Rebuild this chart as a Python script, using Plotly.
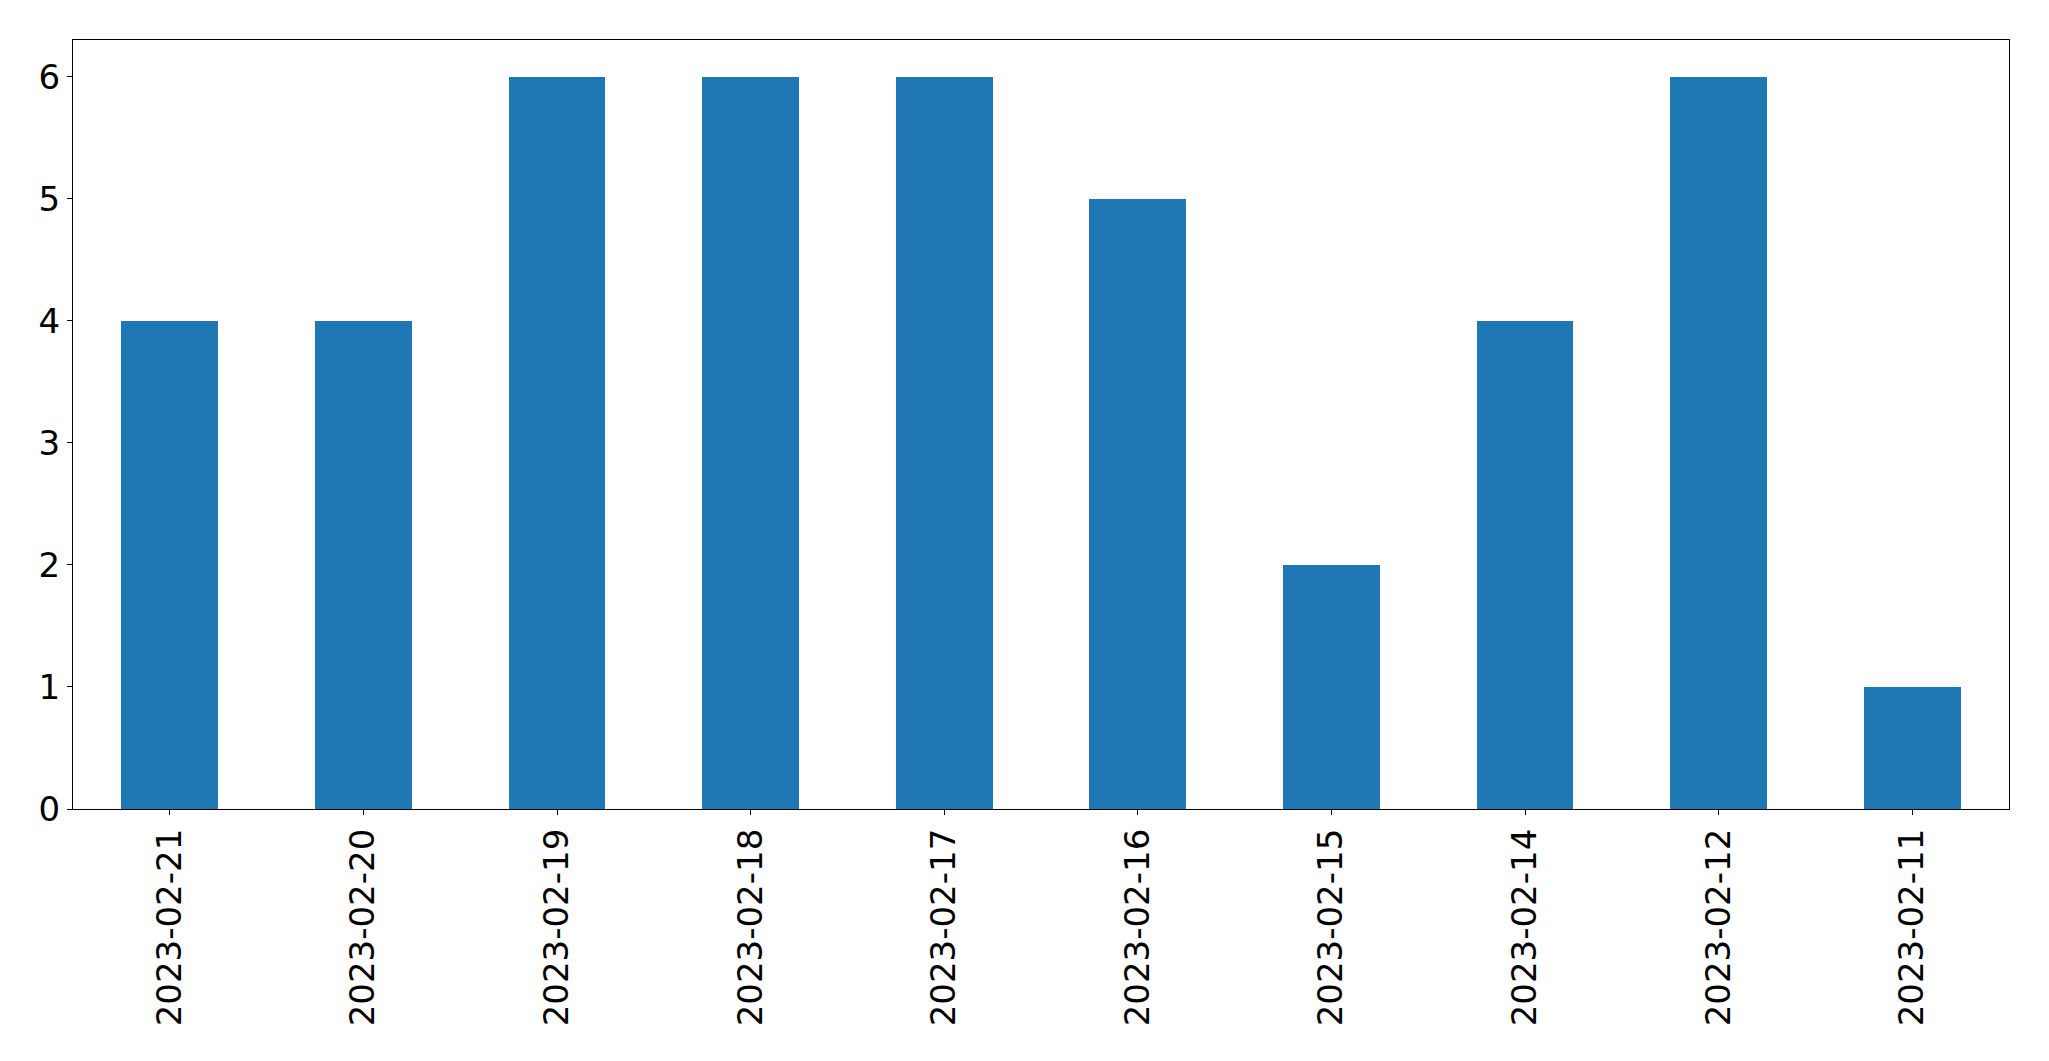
import plotly.graph_objects as go

dates = ["2023-02-21", "2023-02-20", "2023-02-19", "2023-02-18", "2023-02-17",
         "2023-02-16", "2023-02-15", "2023-02-14", "2023-02-12", "2023-02-11"]
counts = [4, 4, 6, 6, 6, 5, 2, 4, 6, 1]
y_ticks = [0, 1, 2, 3, 4, 5, 6]

fig = go.Figure(go.Bar(x=dates, y=counts, marker_color="#1f77b4",
                       marker_line_width=0, width=0.5))

font = dict(family="DejaVu Sans", size=34, color="black")
fig.update_layout(
    width=2033, height=1045,
    margin=dict(l=64.5, r=32, t=31.5, b=244, autoexpand=False),
    paper_bgcolor="white", plot_bgcolor="white",
    showlegend=False,
    bargap=0,
)
fig.update_xaxes(type="category", range=[-0.5, 9.5], tickangle=-90,
                 tickfont=font, ticks="outside", ticklen=5, tickcolor="black",
                 showline=True, mirror=True, linecolor="black", linewidth=1.3,
                 showgrid=False, zeroline=False, automargin=False,
                 ticklabelstandoff=0)
fig.update_yaxes(range=[0, 6.3], tickvals=y_ticks, tickfont=font,
                 ticks="outside", ticklen=5, tickcolor="black",
                 showline=True, mirror=True, linecolor="black", linewidth=1.3,
                 showgrid=False, zeroline=False, automargin=False)

fig.write_html("out.html")
